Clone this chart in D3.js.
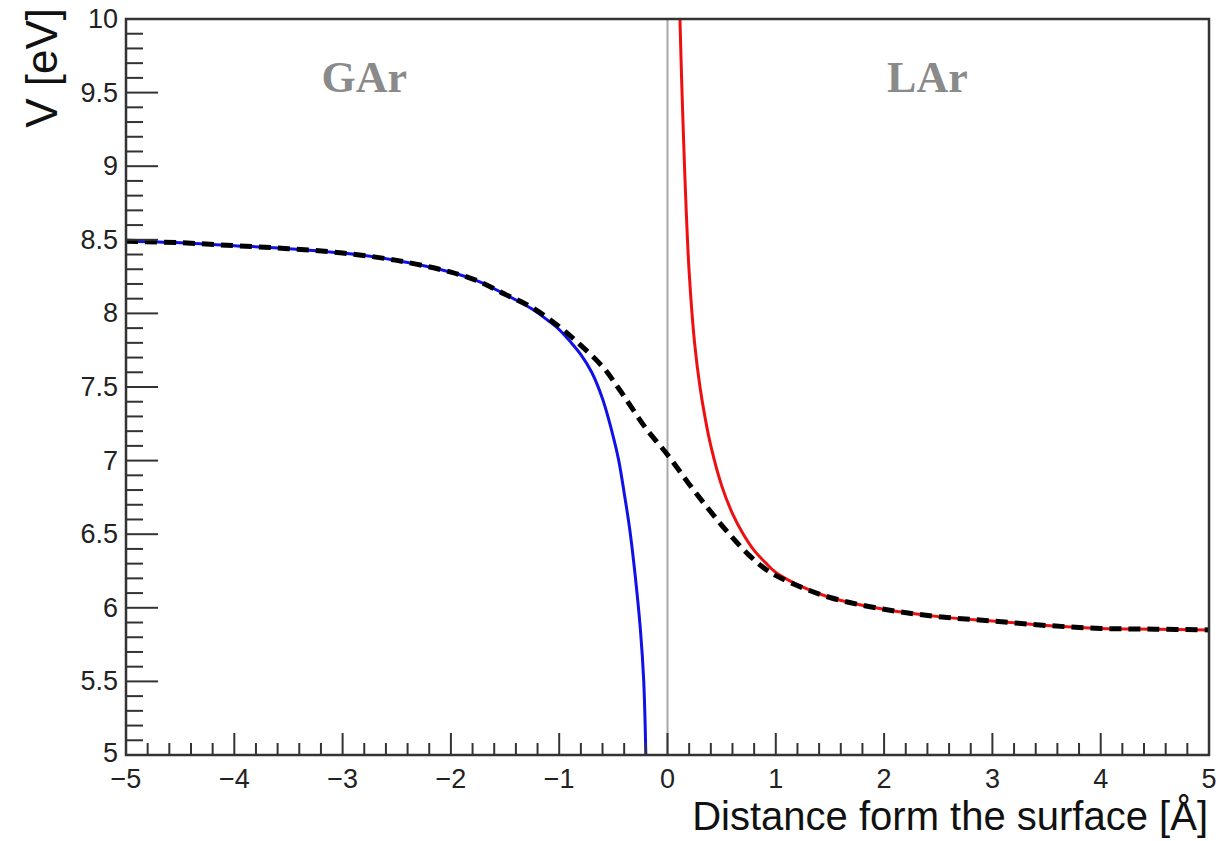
<!DOCTYPE html>
<html><head><meta charset="utf-8">
<script src="https://cdn.jsdelivr.net/npm/d3@7"></script>
<style>html,body{margin:0;padding:0;background:#fff;}svg{display:block;}</style>
</head><body>
<script>
// ---- data ----
const gasX   = [-5, -4.5, -4, -3.5, -3, -2.5, -2, -1.75, -1.5, -1.25, -1.1, -1.0, -0.9, -0.8, -0.7, -0.6, -0.5, -0.45, -0.4, -0.35, -0.3, -0.25, -0.22, -0.2];
const gasV   = [8.49, 8.48, 8.46, 8.44, 8.41, 8.36, 8.28, 8.22, 8.13, 8.03, 7.95, 7.89, 7.81, 7.72, 7.60, 7.42, 7.16, 7.0, 6.78, 6.54, 6.23, 5.85, 5.51, 5.0];
const liqX   = [0.115, 0.13, 0.15, 0.17, 0.2, 0.25, 0.3, 0.35, 0.4, 0.5, 0.6, 0.7, 0.8, 0.9, 1.0, 1.25, 1.5, 2, 2.5, 3, 3.5, 4, 4.5, 5];
const liqV   = [10, 9.6, 9.15, 8.75, 8.28, 7.80, 7.50, 7.28, 7.10, 6.83, 6.64, 6.50, 6.39, 6.31, 6.24, 6.14, 6.07, 5.99, 5.94, 5.91, 5.88, 5.86, 5.855, 5.85];
const totX   = [-5, -4.5, -4, -3.5, -3, -2.5, -2, -1.75, -1.5, -1.25, -1.0, -0.81, -0.59, -0.46, -0.34, -0.2, 0, 0.2, 0.38, 0.56, 0.75, 0.93, 1.17, 1.5, 2, 2.5, 3, 3.5, 4, 4.5, 5];
const totV   = [8.49, 8.48, 8.46, 8.44, 8.41, 8.36, 8.28, 8.22, 8.13, 8.04, 7.91, 7.79, 7.63, 7.50, 7.37, 7.22, 7.04, 6.84, 6.67, 6.51, 6.36, 6.25, 6.16, 6.07, 5.99, 5.94, 5.91, 5.88, 5.86, 5.855, 5.85];
const xTicks = [-5, -4, -3, -2, -1, 0, 1, 2, 3, 4, 5];
const yTicks = [5, 5.5, 6, 6.5, 7, 7.5, 8, 8.5, 9, 9.5, 10];
const xTitle = "Distance form the surface [Å]";
const yTitle = "V [eV]";
const regionLabels = ["GAr", "LAr"];
const regionX = [-2.8, 2.4];

// ---- layout ----
const W = 1227, H = 841;
const L = 126, R = 1209, T = 19, B = 755;
const svg = d3.select("body").append("svg").attr("width", W).attr("height", H);
const x = d3.scaleLinear().domain([-5, 5]).range([L, R]);
const y = d3.scaleLinear().domain([5, 10]).range([B, T]);
const font = "'Liberation Sans', Arial, Helvetica, sans-serif";

svg.append("clipPath").attr("id", "c").append("rect")
  .attr("x", L).attr("y", T).attr("width", R - L).attr("height", B - T);

// zero line
svg.append("line").attr("x1", x(0)).attr("x2", x(0)).attr("y1", T).attr("y2", B)
  .attr("stroke", "#a8a8a8").attr("stroke-width", 2);

const line = d3.line().x(d => x(d[0])).y(d => y(d[1])).curve(d3.curveCatmullRom.alpha(0.5));
const g = svg.append("g").attr("clip-path", "url(#c)");
g.append("path").attr("d", line(d3.zip(gasX, gasV))).attr("fill", "none")
  .attr("stroke", "#1010e8").attr("stroke-width", 3);
g.append("path").attr("d", line(d3.zip(liqX, liqV))).attr("fill", "none")
  .attr("stroke", "#ee1010").attr("stroke-width", 3);
g.append("path").attr("d", line(d3.zip(totX, totV))).attr("fill", "none")
  .attr("stroke", "#000").attr("stroke-width", 5).attr("stroke-dasharray", "12,7");

// ticks (drawn inward, ROOT style)
const xt = d3.range(-50, 51, 2).map(v => v / 10);
svg.append("g").selectAll("line").data(xt).join("line")
  .attr("x1", d => x(d)).attr("x2", d => x(d))
  .attr("y1", B).attr("y2", d => Math.abs(d - Math.round(d)) < 1e-6 ? B - 22 : B - 12)
  .attr("stroke", "#333").attr("stroke-width", 2);
const yt = d3.range(50, 101, 1).map(v => v / 10);
svg.append("g").selectAll("line").data(yt).join("line")
  .attr("y1", d => y(d)).attr("y2", d => y(d))
  .attr("x1", L).attr("x2", d => Math.abs(d * 2 - Math.round(d * 2)) < 1e-6 ? L + 32 : L + 17)
  .attr("stroke", "#333").attr("stroke-width", 2);

// frame
svg.append("rect").attr("x", L).attr("y", T).attr("width", R - L).attr("height", B - T)
  .attr("fill", "none").attr("stroke", "#333").attr("stroke-width", 2.5);

// tick labels
svg.append("g").selectAll("text").data(xTicks).join("text")
  .attr("x", d => x(d)).attr("y", 788).attr("text-anchor", "middle")
  .attr("font-family", font).attr("font-size", 27).attr("fill", "#222")
  .text(d => d < 0 ? "\u2212" + Math.abs(d) : d);
svg.append("g").selectAll("text").data(yTicks).join("text")
  .attr("x", 118).attr("y", d => y(d) + (d === 5 ? 7 : 9)).attr("text-anchor", "end")
  .attr("font-family", font).attr("font-size", 27).attr("fill", "#222")
  .text(d => d);

// titles
svg.append("text").attr("x", 1208).attr("y", 830).attr("text-anchor", "end")
  .attr("font-family", font).attr("font-size", 40).attr("fill", "#111")
  .text(xTitle);
svg.append("text").attr("transform", "translate(57,8) rotate(-90)")
  .attr("text-anchor", "end").attr("font-family", font).attr("font-size", 44).attr("fill", "#111")
  .text(yTitle);

// region labels
svg.append("g").selectAll("text").data(regionLabels).join("text")
  .attr("x", (d, i) => x(regionX[i])).attr("y", 92).attr("text-anchor", "middle")
  .attr("font-family", "'Liberation Serif', 'Times New Roman', serif").attr("font-weight", "bold")
  .attr("font-size", 44).attr("fill", "#8a8a8a")
  .text(d => d);
</script>
</body></html>
